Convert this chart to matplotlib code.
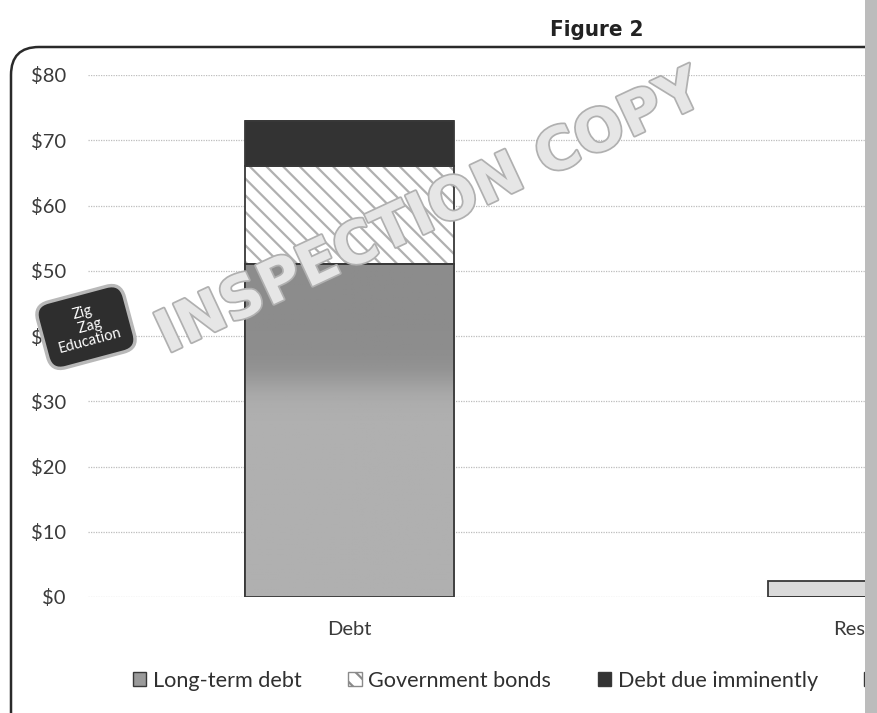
import matplotlib
matplotlib.use("Agg")
import matplotlib.pyplot as plt
import matplotlib.patheffects as pe
from matplotlib.patches import FancyBboxPatch, Rectangle, Patch
import numpy as np

# ── Data ──────────────────────────────────────────────────────────────────────
categories = ["Debt", "Reserves"]
long_term  = [51, 0]
gov_bonds  = [15, 0]
imminent   = [7, 0]
reserves   = [0, 2.4]
series     = ["Long-term debt", "Government bonds", "Debt due imminently", "Reserves"]
y_ticks    = [0, 10, 20, 30, 40, 50, 60, 70, 80]

W, H, DPI = 877, 713, 100
plt.rcParams["font.family"] = ["Lato", "DejaVu Sans"]
plt.rcParams["hatch.linewidth"] = 1.6

fig = plt.figure(figsize=(W / DPI, H / DPI), dpi=DPI)
fig.patch.set_facecolor("white")

def px(x, y):
    return x / W, 1 - y / H

# axes: $0 at y=597, $80 at y=75, left edge x=88
ax = fig.add_axes([88 / W, 1 - 597 / H, 1 - 88 / W, (597 - 75) / H])
ax.set_xlim(-0.5, (W - 349) / 524)
ax.set_ylim(0, 80)
ax.set_facecolor("none")
for s in ax.spines.values():
    s.set_visible(False)

ax.set_yticks(y_ticks)
ax.set_yticklabels([f"${v}" for v in y_ticks])
ax.set_xticks(range(len(categories)))
ax.set_xticklabels(categories)
ax.tick_params(axis="both", length=0, labelsize=14.5, colors="#3a3a3a")
ax.tick_params(axis="y", pad=16)
ax.tick_params(axis="x", pad=17)
ax.yaxis.grid(True, linestyle=(0, (1, 1)), color="#bdbdbd", linewidth=0.9)
ax.set_axisbelow(True)

x = np.arange(len(categories))
bw = 0.40
edge = "#383838"

# long-term debt with a soft vertical shading
lt = ax.bar(x, long_term, bw, color="#a6a6a6", edgecolor=edge, linewidth=1.3, zorder=2)
grad_v = np.linspace(0, 1, 200)
shade = 0.69 - 0.14 * (1 / (1 + np.exp(-(grad_v * 51 - 33) / 1.5)))
img = ax.imshow(shade[:, None], extent=(x[0] - bw / 2, x[0] + bw / 2, 0, long_term[0]),
                origin="lower", cmap="gray", vmin=0, vmax=1, aspect="auto", zorder=2.1)
img.set_clip_path(lt[0])
ax.bar(x, long_term, bw, fill=False, edgecolor=edge, linewidth=1.3, zorder=2.2)

b1 = np.array(long_term)
ax.bar(x, gov_bonds, bw, bottom=b1, color="white", edgecolor="#b0b0b0",
       hatch="\\\\", linewidth=0, zorder=2)
ax.bar(x, gov_bonds, bw, bottom=b1, fill=False, edgecolor=edge, linewidth=1.3, zorder=2.2)

b2 = b1 + np.array(gov_bonds)
ax.bar(x, imminent, bw, bottom=b2, color="#333333", edgecolor=edge, linewidth=1.3, zorder=2)

b3 = b2 + np.array(imminent)
ax.bar(x, reserves, bw, bottom=b3, color="#dadada", edgecolor=edge, linewidth=1.3, zorder=2)

# ── Legend ────────────────────────────────────────────────────────────────────
handles = [
    Patch(facecolor="#9a9a9a", edgecolor=edge),
    Patch(facecolor="white", edgecolor="#8a8a8a", hatch="\\\\"),
    Patch(facecolor="#333333", edgecolor=edge),
    Patch(facecolor="#dadada", edgecolor=edge),
]
fig.legend(handles, series, ncol=4, loc="center left",
           bbox_to_anchor=(133 / W, 1 - 681 / H), frameon=False,
           fontsize=15.6, handlelength=0.62, handleheight=0.62,
           handletextpad=0.3, columnspacing=2.15, labelcolor="#303030",
           borderaxespad=0, borderpad=0)

# ── Title & chart frame ───────────────────────────────────────────────────────
fig.text(*px(597, 30), "Figure 2", ha="center", va="center", fontsize=16,
         fontweight="bold", family="DejaVu Sans", fontstretch="condensed",
         color="#222222")

frame = FancyBboxPatch((11, -40), 1000, H - 47 + 40,
                       boxstyle="round,pad=0,rounding_size=28",
                       transform=None, fill=False, edgecolor="#2a2a2a",
                       linewidth=1.8, zorder=5)
fig.patches.append(frame)

# right page strip
fig.patches.append(Rectangle((865 / W, 0), 12 / W, 1, transform=fig.transFigure,
                             facecolor="#bcbcbc", edgecolor="none", zorder=10))

# ── Watermark ─────────────────────────────────────────────────────────────────
fig.text(*px(430, 213), "INSPECTION COPY", ha="center", va="center",
         rotation=25, fontsize=42, fontweight="heavy", color="#e6e6e6",
         family="DejaVu Sans", zorder=8,
         path_effects=[pe.withStroke(linewidth=2.5, foreground="#b0b0b0")])
fig.text(*px(86, 327), "Zig\n  Zag\nEducation", ha="center", va="center",
         rotation=15, fontsize=10.5, color="white", linespacing=1.05, zorder=9,
         bbox=dict(boxstyle="round,pad=0.85,rounding_size=1.0", fc="#2e2e2e",
                   ec="#b8b8b8", lw=2.5))

fig.savefig("out.png", dpi=DPI, facecolor="white")
